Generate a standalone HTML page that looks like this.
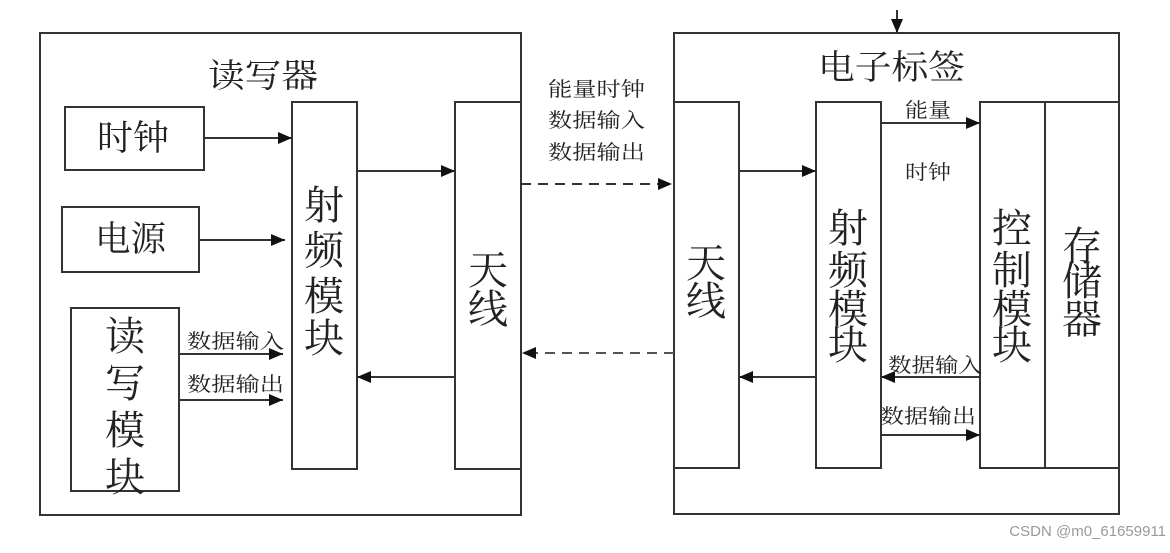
<!DOCTYPE html>
<html><head><meta charset="utf-8"><style>
body{margin:0;background:#fff;}
svg text{font-family:"Liberation Serif","Noto Serif CJK SC","Noto Sans CJK SC",serif;fill:#222;}
</style></head><body>
<svg width="1170" height="548" viewBox="0 0 1170 548" xmlns="http://www.w3.org/2000/svg">
<defs>
<marker id="a" markerWidth="14" markerHeight="12" refX="14" refY="6" orient="auto" markerUnits="userSpaceOnUse">
<path d="M0,0 L14,6 L0,12 z" fill="#111"/></marker>
</defs>
<g fill="none" stroke="#333" stroke-width="2">
<rect x="40" y="33" width="481" height="482"/>
<rect x="65" y="107" width="139" height="63"/>
<rect x="62" y="207" width="137" height="65"/>
<rect x="71" y="308" width="108" height="183"/>
<rect x="292" y="102" width="65" height="367"/>
<rect x="455" y="102" width="66" height="367"/>
<rect x="674" y="33" width="445" height="481"/>
<rect x="674" y="102" width="65" height="366"/>
<rect x="816" y="102" width="65" height="366"/>
<rect x="980" y="102" width="65" height="366"/>
<rect x="1045" y="102" width="74" height="366"/>
</g>
<g stroke="#333" stroke-width="2" marker-end="url(#a)">
<line x1="204" y1="138" x2="292" y2="138"/>
<line x1="199" y1="240" x2="285" y2="240"/>
<line x1="179" y1="354" x2="283" y2="354"/>
<line x1="179" y1="400" x2="283" y2="400"/>
<line x1="357" y1="171" x2="455" y2="171"/>
<line x1="455" y1="377" x2="357" y2="377"/>
<line x1="521" y1="184" x2="672" y2="184" stroke-dasharray="10,7"/>
<line x1="674" y1="353" x2="522" y2="353" stroke-dasharray="10,7" stroke="#555"/>
<line x1="897" y1="10" x2="897" y2="33"/>
<line x1="739" y1="171" x2="816" y2="171"/>
<line x1="816" y1="377" x2="739" y2="377"/>
<line x1="881" y1="123" x2="980" y2="123"/>
<line x1="980" y1="377" x2="881" y2="377"/>
<line x1="881" y1="435" x2="980" y2="435"/>
</g>
<text x="208" y="87" font-size="33" textLength="110" lengthAdjust="spacingAndGlyphs">读写器</text>
<text x="97" y="150" font-size="35" textLength="72" lengthAdjust="spacingAndGlyphs">时钟</text>
<text x="95" y="251" font-size="35" textLength="71" lengthAdjust="spacingAndGlyphs">电源</text>
<text x="818" y="79" font-size="34" textLength="147" lengthAdjust="spacingAndGlyphs">电子标签</text>
<g font-size="40" text-anchor="middle">
<text x="125" y="350">读</text><text x="125" y="397">写</text><text x="125" y="444">模</text><text x="125" y="491">块</text>
<text x="324" y="219">射</text><text x="324" y="264">频</text><text x="324" y="310">模</text><text x="324" y="352">块</text>
<text x="488" y="284">天</text><text x="488" y="323">线</text>
<text x="706" y="277">天</text><text x="706" y="315">线</text>
<text x="848" y="242">射</text><text x="848" y="284">频</text><text x="848" y="323">模</text><text x="848" y="359">块</text>
<text x="1012" y="242">控</text><text x="1012" y="284">制</text><text x="1012" y="323">模</text><text x="1012" y="359">块</text>
<text x="1082" y="260">存</text><text x="1082" y="295">储</text><text x="1082" y="333">器</text>
</g>
<g font-size="20">
<text x="548" y="96" textLength="97" lengthAdjust="spacingAndGlyphs">能量时钟</text>
<text x="548" y="127" textLength="97" lengthAdjust="spacingAndGlyphs">数据输入</text>
<text x="548" y="159" textLength="97" lengthAdjust="spacingAndGlyphs">数据输出</text>
<text x="187" y="348" textLength="97" lengthAdjust="spacingAndGlyphs">数据输入</text>
<text x="187" y="391" textLength="97" lengthAdjust="spacingAndGlyphs">数据输出</text>
<text x="905" y="117" textLength="46" lengthAdjust="spacingAndGlyphs">能量</text>
<text x="905" y="179" textLength="46" lengthAdjust="spacingAndGlyphs">时钟</text>
<text x="888" y="372" textLength="94" lengthAdjust="spacingAndGlyphs">数据输入</text>
<text x="880" y="423" textLength="96" lengthAdjust="spacingAndGlyphs">数据输出</text>
</g>
<text x="1166" y="536" font-size="15" text-anchor="end" style="font-family:'Liberation Sans',sans-serif;fill:#999">CSDN @m0_61659911</text>
</svg>
</body></html>
